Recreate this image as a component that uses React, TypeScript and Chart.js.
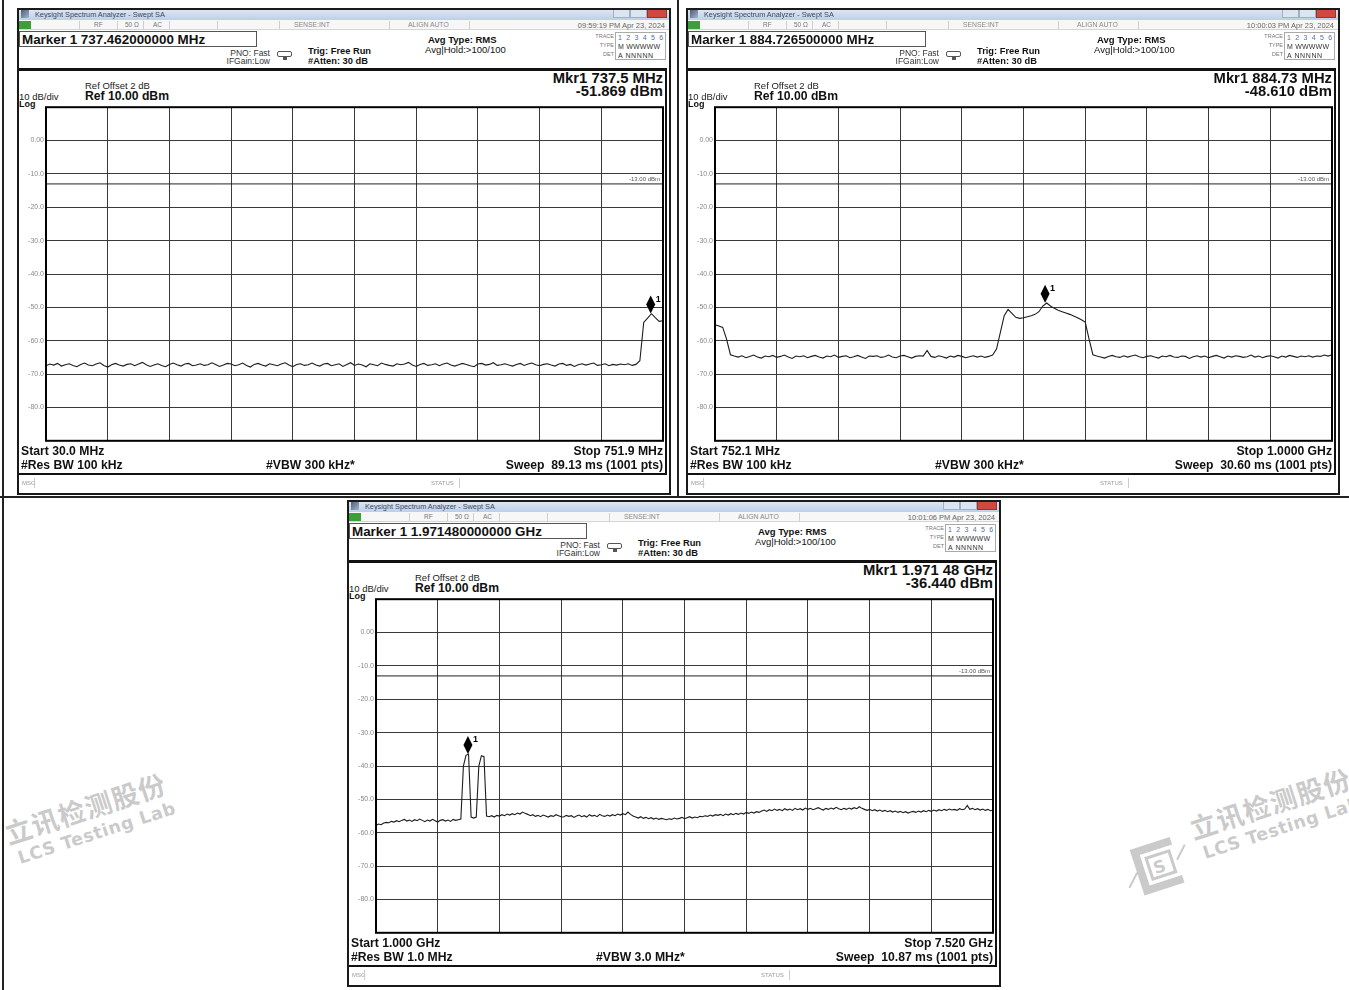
import React, { useEffect, useRef } from "react";
import { Chart, registerables } from "chart.js";

Chart.register(...registerables);

const FONT = '"Liberation Sans", Arial, Helvetica, sans-serif';

// ---------- common analyzer axis ----------
const Y_TICK_VALUES = [10, 0, -10, -20, -30, -40, -50, -60, -70, -80, -90];
const Y_TICK_LABELS = ["", "0.00", "-10.0", "-20.0", "-30.0", "-40.0", "-50.0", "-60.0", "-70.0", "-80.0", ""];
const DISPLAY_LINE_DBM = -13;
const DISPLAY_LINE_LABEL = "-13.00 dBm";
const X_DIVISIONS = 10;

// ---------- Panel A: 30.0 MHz – 751.9 MHz ----------
const startA = 30.0;
const stopA = 751.9;
const levelsA = [
  -67.5, -67.0, -67.3, -66.8, -67.6, -67.2, -66.9, -67.4, -67.8, -67.1,
  -66.7, -67.3, -67.5, -67.0, -66.6, -67.4, -67.9, -67.2, -66.8, -67.3,
  -67.6, -67.1, -66.9, -67.5, -67.0, -66.5, -67.2, -67.7, -67.3, -66.9,
  -67.4, -67.8, -67.1, -66.7, -67.2, -67.6, -67.0, -66.8, -67.5, -67.3,
  -66.9, -67.4, -67.2, -66.6, -67.1, -67.7, -67.3, -66.8, -67.0, -67.5,
  -67.2, -66.7, -67.4, -67.9, -67.1, -66.8, -67.3, -67.6, -66.9, -67.2,
  -67.5, -67.0, -66.6, -67.3, -67.8, -67.1, -66.9, -67.4, -67.2, -66.7,
  -67.3, -67.6, -67.0, -66.8, -67.5, -67.2, -66.9, -67.7, -67.1, -66.6,
  -67.4, -67.0, -67.3, -67.8, -66.9, -67.2, -67.5, -66.7, -67.1, -67.4,
  -67.6, -66.9, -67.2, -67.0, -66.5, -67.3, -67.7, -67.1, -66.8, -67.4,
  -67.2, -66.9, -67.5, -67.0, -66.7, -67.3, -67.6, -67.2, -66.8, -67.1,
  -67.5, -67.8, -67.0, -66.8, -67.3, -67.1, -66.6, -67.4, -67.2, -66.9,
  -67.3, -67.6, -67.1, -66.8, -67.4, -67.0, -66.7, -67.2, -67.5, -67.1,
  -66.9, -67.3, -67.6, -67.0, -66.8, -67.4, -67.1, -67.7, -67.2, -66.9,
  -67.3, -67.0, -66.7, -67.4, -67.2, -66.9, -67.5, -67.1, -67.3, -67.0,
  -67.2, -66.9, -67.4, -67.1, -66.0, -54.5, -53.2, -51.9, -53.1, -54.2,
  -54.0,
];
const markerA = [737.5, -51.869];

// ---------- Panel B: 752.1 MHz – 1000.0 MHz ----------
const startB = 752.1;
const stopB = 1000.0;
const levelsB = [
  -55.2, -55.6, -56.0, -59.5, -64.2, -64.6,
  -64.9, -64.5, -65.1, -64.7, -64.3, -64.9, -65.2, -64.6, -64.8, -64.4,
  -65.0, -64.7, -64.3, -64.9, -65.3, -64.6, -64.8, -64.5, -65.1, -64.7,
  -64.4, -64.9, -65.2, -64.6, -64.8, -64.3, -65.0, -64.7, -64.5, -65.1,
  -64.8, -64.4, -64.9, -65.3, -64.6, -64.7, -64.5, -65.0, -64.8, -64.3,
  -64.9, -65.1, -64.6, -64.4, -64.8, -65.2, -64.7, -64.5, -64.6, -62.9,
  -64.7, -65.0, -64.5, -64.8, -65.2, -64.6, -64.9, -64.4, -64.7, -65.1,
  -64.8, -64.5, -64.9, -64.6, -65.0, -64.7, -64.3,
  -62.5, -57.5, -52.5, -50.6, -51.8, -53.0, -53.3, -53.1, -52.8, -52.5,
  -52.1, -51.3, -49.6, -48.7, -49.6, -50.3, -50.9, -51.3, -51.7, -52.1,
  -52.6, -53.1, -53.7, -54.4, -59.5, -64.2,
  -64.6, -64.9, -65.2, -64.7, -64.4, -64.8, -65.0, -64.5, -64.9, -64.6,
  -64.3, -64.8, -65.1, -64.7, -64.5, -64.9, -65.2, -64.6, -64.8, -64.4,
  -64.9, -65.0, -64.6, -64.7, -65.3, -64.8, -64.5, -64.9, -64.6, -65.1,
  -64.7, -64.4, -64.8, -65.2, -64.6, -64.9, -64.5, -64.7, -65.0, -64.8,
  -64.3, -64.9, -64.6, -65.1, -64.7, -64.5, -64.8, -65.2, -64.6, -64.9,
  -64.4, -64.7, -65.0, -64.6, -64.8, -64.5, -64.9, -64.6, -64.7, -64.3,
  -64.6, -64.2,
];
const markerB = [884.7265, -48.61];

// ---------- Panel C: 1.000 GHz – 7.520 GHz ----------
const startC = 1.0;
const stopC = 7.52;
const levelsC = [
  -57.8, -57.4, -57.6, -57.1, -56.9, -57.0, -56.6, -56.8, -56.4, -56.7,
  -56.3, -56.0, -56.5, -56.2, -56.6, -56.1, -56.4, -55.9, -56.3, -56.7,
  -56.2, -56.5, -56.0, -56.4, -56.8, -56.3, -56.1, -56.5, -56.2, -56.6,
  -56.0, -56.3, -56.1,
  -55.9, -40.0, -36.8, -36.44, -55.3, -55.6, -55.3, -40.0, -36.9, -37.2, -55.0,
  -55.2, -54.9, -55.3, -54.8, -55.0, -54.6, -54.9, -54.4, -54.7, -54.3,
  -54.6, -54.1, -54.4, -53.8, -54.2,
  -54.5, -54.9, -54.6, -55.1, -54.8, -55.2, -54.7, -55.0, -55.3, -54.9,
  -55.1, -54.6, -54.9, -55.2,
  -55.3, -54.8, -55.1, -54.9, -55.4, -55.0, -54.7, -55.2, -54.9, -55.3,
  -54.6, -55.0, -54.8, -55.2, -54.5, -54.9, -55.1, -54.7, -55.0, -54.6,
  -54.9, -54.4, -54.7, -54.3, -54.6,
  -53.8, -54.5, -55.0,
  -55.3, -55.6, -55.2, -55.7, -55.4, -55.8, -55.5, -55.9, -55.6, -56.0,
  -55.7, -55.9, -56.1, -55.8, -56.0, -55.6, -55.9, -55.7, -55.4, -55.8,
  -55.5, -55.2, -55.6, -55.3, -55.5, -55.1,
  -55.2, -54.9, -55.1, -54.7, -55.0, -54.6, -54.8, -54.5, -54.9, -54.4,
  -54.7, -54.3, -54.6, -54.2, -54.5, -54.1, -54.4, -53.9, -54.2, -53.8,
  -54.1, -53.7, -53.9,
  -53.5, -53.2, -53.6, -53.1, -53.4, -52.9, -53.3, -53.0, -53.4, -52.8,
  -53.2, -52.9, -53.3, -52.7, -53.1, -52.8, -53.2, -52.6, -53.0, -52.7,
  -53.1, -52.8, -52.5, -52.9, -53.2, -52.7, -53.0, -52.6, -52.9, -52.4,
  -52.8, -53.1, -52.7, -53.0, -52.6, -52.9, -52.5, -52.8, -52.2,
  -52.7, -53.0, -53.3, -53.0, -53.4, -53.1, -53.5, -53.2, -53.6, -53.3,
  -53.7, -53.4, -53.8, -53.5, -53.9, -53.6, -54.0, -53.7, -54.1, -53.8,
  -53.6, -53.9, -53.5, -53.8,
  -53.4, -53.7, -53.3, -53.6, -53.2, -53.5, -53.1, -53.4, -53.0, -53.3,
  -52.9, -53.2, -53.0, -53.3, -52.8, -53.1, -52.9, -51.8, -53.0, -52.7,
  -53.1, -52.8, -53.2, -52.9, -53.3, -53.0, -53.4, -53.2,
];
const markerC = [1.97148, -36.44];

// ---------- panel texts ----------
const textA = {
  time: "09:59:19 PM Apr 23, 2024",
  marker: "Marker 1 737.462000000 MHz",
  mkrFreq: "Mkr1 737.5 MHz",
  mkrLevel: "-51.869 dBm",
  start: "Start 30.0 MHz",
  stop: "Stop 751.9 MHz",
  rbw: "#Res BW 100 kHz",
  vbw: "#VBW 300 kHz*",
  sweep: "Sweep  89.13 ms (1001 pts)",
};
const textB = {
  time: "10:00:03 PM Apr 23, 2024",
  marker: "Marker 1 884.726500000 MHz",
  mkrFreq: "Mkr1 884.73 MHz",
  mkrLevel: "-48.610 dBm",
  start: "Start 752.1 MHz",
  stop: "Stop 1.0000 GHz",
  rbw: "#Res BW 100 kHz",
  vbw: "#VBW 300 kHz*",
  sweep: "Sweep  30.60 ms (1001 pts)",
};
const textC = {
  time: "10:01:06 PM Apr 23, 2024",
  marker: "Marker 1 1.971480000000 GHz",
  mkrFreq: "Mkr1 1.971 48 GHz",
  mkrLevel: "-36.440 dBm",
  start: "Start 1.000 GHz",
  stop: "Stop 7.520 GHz",
  rbw: "#Res BW 1.0 MHz",
  vbw: "#VBW 3.0 MHz*",
  sweep: "Sweep  10.87 ms (1001 pts)",
};

const PANEL_W = 654;
const PANEL_H = 487;

function buildConfig(start: number, stop: number, levels: number[], marker: number[]): any {
  const step = (stop - start) / (levels.length - 1);
  const trace = levels.map((v, i) => ({ x: start + i * step, y: v }));
  const displayLine = [
    { x: start, y: DISPLAY_LINE_DBM },
    { x: stop, y: DISPLAY_LINE_DBM },
  ];
  const overlay = {
    id: "analyzerOverlay",
    afterDatasetsDraw(chart: any) {
      const { ctx, chartArea: a, scales } = chart;
      const xs = scales.x;
      const ys = scales.y;
      ctx.save();
      ctx.font = `6px ${FONT}`;
      ctx.fillStyle = "#555";
      ctx.textAlign = "right";
      ctx.textBaseline = "bottom";
      ctx.fillText(DISPLAY_LINE_LABEL, a.right - 3, ys.getPixelForValue(DISPLAY_LINE_DBM) - 2);
      const mx = xs.getPixelForValue(marker[0]);
      const my = ys.getPixelForValue(marker[1]);
      ctx.fillStyle = "#000";
      ctx.beginPath();
      ctx.moveTo(mx, my);
      ctx.lineTo(mx + 4.5, my - 9);
      ctx.lineTo(mx, my - 18);
      ctx.lineTo(mx - 4.5, my - 9);
      ctx.closePath();
      ctx.fill();
      ctx.font = `bold 9px ${FONT}`;
      ctx.textAlign = "left";
      ctx.textBaseline = "alphabetic";
      ctx.fillText("1", mx + 5, my - 12);
      ctx.lineWidth = 2;
      ctx.strokeStyle = "#000";
      ctx.strokeRect(a.left, a.top, a.right - a.left, a.bottom - a.top);
      ctx.restore();
    },
  };
  const gridStyle = { color: "#3a3a3a", lineWidth: 1, drawTicks: false };
  return {
    type: "line",
    data: {
      datasets: [
        { data: trace, borderColor: "#1c1c1c", borderWidth: 1.1, pointRadius: 0, tension: 0, fill: false },
        { data: displayLine, borderColor: "#222", borderWidth: 1, pointRadius: 0, fill: false },
      ],
    },
    options: {
      animation: false,
      responsive: false,
      maintainAspectRatio: false,
      events: [],
      plugins: { legend: { display: false }, tooltip: { enabled: false } },
      layout: { padding: { top: 4.5, bottom: 4.5, right: 4, left: 0 } },
      scales: {
        x: {
          type: "linear",
          min: start,
          max: stop,
          afterBuildTicks: (s: any) => {
            const t = [];
            for (let i = 0; i <= X_DIVISIONS; i++) t.push({ value: start + (i * (stop - start)) / X_DIVISIONS });
            s.ticks = t;
          },
          ticks: { display: false },
          grid: gridStyle,
          border: { display: false },
          afterFit: (s: any) => {
            s.height = 0;
          },
        },
        y: {
          type: "linear",
          min: Y_TICK_VALUES[Y_TICK_VALUES.length - 1],
          max: Y_TICK_VALUES[0],
          afterBuildTicks: (s: any) => {
            s.ticks = Y_TICK_VALUES.map((v) => ({ value: v }));
          },
          ticks: {
            autoSkip: false,
            padding: 2,
            color: "#8a8a8a",
            font: { size: 7, family: FONT },
            callback: (v: any) => {
              const i = Y_TICK_VALUES.indexOf(Number(v));
              return i >= 0 ? Y_TICK_LABELS[i] : "";
            },
          },
          grid: gridStyle,
          border: { display: false },
          afterFit: (s: any) => {
            s.width = 27;
          },
        },
      },
    },
    plugins: [overlay],
  };
}

function Txt(props: {
  x?: number;
  r?: number;
  y: number;
  s: number;
  b?: boolean | number;
  c?: string;
  ls?: number;
  children: React.ReactNode;
}) {
  const st: React.CSSProperties = {
    position: "absolute",
    top: props.y,
    fontSize: props.s,
    lineHeight: 1,
    fontWeight: props.b === true ? 700 : typeof props.b === "number" ? props.b : 400,
    color: props.c || "#111",
    whiteSpace: "pre",
    fontFamily: FONT,
    letterSpacing: props.ls || 0,
  };
  if (props.r !== undefined) {
    st.right = PANEL_W - props.r;
    st.textAlign = "right";
  } else st.left = props.x;
  return <div style={st}>{props.children}</div>;
}

function Box(props: { x: number; y: number; w: number; h: number; style?: React.CSSProperties }) {
  return (
    <div
      style={{
        position: "absolute",
        left: props.x,
        top: props.y,
        width: props.w,
        height: props.h,
        boxSizing: "border-box",
        ...(props.style || {}),
      }}
    />
  );
}

function Panel(props: {
  left: number;
  top: number;
  start: number;
  stop: number;
  levels: number[];
  marker: number[];
  t: typeof textA;
}) {
  const ref = useRef<HTMLCanvasElement>(null);
  useEffect(() => {
    const chart = new Chart(ref.current as HTMLCanvasElement, buildConfig(props.start, props.stop, props.levels, props.marker));
    return () => chart.destroy();
  }, []);
  const t = props.t;
  const sep = [62, 100, 126, 152, 200, 262, 372, 452];
  return (
    <div
      style={{
        position: "absolute",
        left: props.left,
        top: props.top,
        width: PANEL_W,
        height: PANEL_H,
        background: "#fff",
        overflow: "hidden",
        zIndex: 2,
      }}
    >
      {/* title bar */}
      <Box x={0} y={0} w={PANEL_W} h={12} style={{ background: "linear-gradient(#e2ebf7,#bdcfe8)" }} />
      <Box x={4} y={2} w={8} h={8} style={{ background: "linear-gradient(135deg,#4e5f7a,#a3b4cc)" }} />
      <Txt x={18} y={2.5} s={7.3} c="#3d4a5c">
        Keysight Spectrum Analyzer - Swept SA
      </Txt>
      <Box x={596} y={1} w={17} h={9} style={{ background: "#dbe5f2", border: "1px solid #9fb1c9" }} />
      <Box x={613} y={1} w={17} h={9} style={{ background: "#dbe5f2", border: "1px solid #9fb1c9" }} />
      <Box x={630} y={1} w={20} h={9} style={{ background: "#cf4a3c", border: "1px solid #9a3328" }} />
      {/* toolbar */}
      <Box x={0} y={12} w={PANEL_W} h={10} style={{ background: "#f7f7f7", borderBottom: "1px solid #d5d5d5" }} />
      <Box x={2} y={13} w={12} h={8} style={{ background: "#3e9e3a" }} />
      {sep.map((s) => (
        <Box key={s} x={s} y={13} w={1} h={8} style={{ background: "#cfcfcf" }} />
      ))}
      <Txt x={77} y={14} s={6.5} c="#777">RF</Txt>
      <Txt x={108} y={14} s={6.5} c="#777">50 Ω</Txt>
      <Txt x={136} y={14} s={6.5} c="#777">AC</Txt>
      <Txt x={277} y={14} s={6.8} c="#888">SENSE:INT</Txt>
      <Txt x={391} y={14} s={6.8} c="#888">ALIGN AUTO</Txt>
      <Txt r={648} y={13.5} s={7.5} c="#666">{t.time}</Txt>
      {/* marker box */}
      <Box x={2} y={23} w={238} h={16} style={{ border: "1px solid #555" }} />
      <Txt x={5} y={25.3} s={13.4} b>{t.marker}</Txt>
      <Txt r={253} y={40.9} s={8.5} c="#333">PNO: Fast</Txt>
      <Txt r={253} y={48.9} s={8.5} c="#333">IFGain:Low</Txt>
      <Box x={260} y={43} w={15} h={6} style={{ border: "1px solid #555", borderRadius: 2 }} />
      <Box x={266} y={49} w={4} h={3} style={{ background: "#555" }} />
      <Txt x={291} y={38.8} s={9.3} b={600}>Trig: Free Run</Txt>
      <Txt x={291} y={48.8} s={9.3} b={600}>#Atten: 30 dB</Txt>
      <Txt x={411} y={26.8} s={9.5} b={600}>Avg Type: RMS</Txt>
      <Txt x={408} y={36.8} s={9.5} b={500}>Avg|Hold:&gt;100/100</Txt>
      {/* trace block */}
      <Txt r={597} y={26} s={5.5} c="#777">TRACE</Txt>
      <Txt r={597} y={35} s={5.5} c="#777">TYPE</Txt>
      <Txt r={597} y={44} s={5.5} c="#777">DET</Txt>
      <Box x={598} y={24} w={51} h={28} style={{ border: "1px solid #aaa" }} />
      <Txt x={601} y={25.5} s={7} c="#5070a0" ls={1.2}>1 2 3 4 5 6</Txt>
      <Txt x={601} y={34.5} s={7} c="#333" ls={0.2}>M WWWWW</Txt>
      <Txt x={601} y={43.5} s={7} c="#333" ls={0.6}>A NNNNN</Txt>
      {/* lower box */}
      <Box x={0} y={60} w={650} h={407} style={{ borderStyle: "solid", borderColor: "#111", borderWidth: "3px 2px 2px 2px" }} />
      <Txt r={646} y={63.1} s={14.8} b>{t.mkrFreq}</Txt>
      <Txt r={646} y={76.1} s={14.8} b>{t.mkrLevel}</Txt>
      <Txt x={68} y={72.8} s={9.5} c="#222">Ref Offset 2 dB</Txt>
      <Txt x={68} y={82.4} s={12.2} b>Ref 10.00 dBm</Txt>
      <Txt x={2} y={83.8} s={9.5} c="#222">10 dB/div</Txt>
      <Txt x={2} y={91.5} s={9} b>Log</Txt>
      <canvas ref={ref} width={648} height={346} style={{ position: "absolute", left: 2, top: 93, width: 648, height: 346 }} />
      <Txt x={4} y={437.4} s={12.2} b>{t.start}</Txt>
      <Txt r={646} y={437.4} s={12.2} b>{t.stop}</Txt>
      <Txt x={4} y={451.4} s={12.2} b>{t.rbw}</Txt>
      <Txt x={249} y={451.4} s={12.2} b>{t.vbw}</Txt>
      <Txt r={646} y={451.4} s={12.2} b>{t.sweep}</Txt>
      {/* msg row */}
      <Txt x={5} y={472} s={6} c="#999">MSG</Txt>
      <Box x={17} y={470} w={1} h={10} style={{ background: "#ccc" }} />
      <Txt x={414} y={472} s={6} c="#999">STATUS</Txt>
      <Box x={442} y={470} w={1} h={10} style={{ background: "#ccc" }} />
      {/* outer frame */}
      <Box x={0} y={0} w={PANEL_W} h={PANEL_H} style={{ border: "2px solid #1a1a1a" }} />
    </div>
  );
}

function Watermark(props: { left: number; top: number; logo?: boolean }) {
  const gray = "rgba(150,150,150,0.5)";
  return (
    <div
      style={{
        position: "absolute",
        left: props.left,
        top: props.top,
        transform: "rotate(-18deg)",
        transformOrigin: "0 0",
        zIndex: 1,
        whiteSpace: "nowrap",
      }}
    >
      <div style={{ fontFamily: '"Noto Sans CJK SC", sans-serif', fontWeight: 700, fontSize: 27, lineHeight: "34px", color: gray, letterSpacing: 1 }}>
        立讯检测股份
      </div>
      <div style={{ fontFamily: '"DejaVu Sans", sans-serif', fontWeight: 700, fontSize: 17.5, lineHeight: "20px", color: gray, marginLeft: 5, letterSpacing: 0.6 }}>
        LCS Testing Lab
      </div>
      {props.logo ? (
        <svg width={70} height={60} style={{ position: "absolute", left: -78, top: 12 }} viewBox="0 0 70 60">
          <path d="M14 6 H56 V14 H22 V46 H56 V54 H14 Z" fill={gray} />
          <rect x="27" y="19" width="24" height="22" fill="none" stroke={gray} strokeWidth="3" />
          <text x="31" y="37" fontSize="17" fontWeight="700" fontFamily="DejaVu Sans" fill={gray}>S</text>
          <path d="M2 42 L14 30 M56 30 L68 18" stroke={gray} strokeWidth="2" />
        </svg>
      ) : null}
    </div>
  );
}

export default function App() {
  return (
    <div
      style={{
        position: "absolute",
        left: 0,
        top: 0,
        width: 1349,
        height: 990,
        background: "#fff",
        overflow: "hidden",
      }}
    >
      <Watermark left={0} top={818} />
      <Watermark left={1185} top={813} logo />
      {/* table lines */}
      <div style={{ position: "absolute", left: 2, top: 0, width: 2, height: 990, background: "#222", zIndex: 3 }} />
      <div style={{ position: "absolute", left: 677, top: 0, width: 2, height: 497, background: "#222", zIndex: 3 }} />
      <div style={{ position: "absolute", left: 0, top: 496, width: 1349, height: 2, background: "#222", zIndex: 3 }} />
      <Panel left={17} top={8} start={startA} stop={stopA} levels={levelsA} marker={markerA} t={textA} />
      <Panel left={686} top={8} start={startB} stop={stopB} levels={levelsB} marker={markerB} t={textB} />
      <Panel left={347} top={500} start={startC} stop={stopC} levels={levelsC} marker={markerC} t={textC} />
    </div>
  );
}
